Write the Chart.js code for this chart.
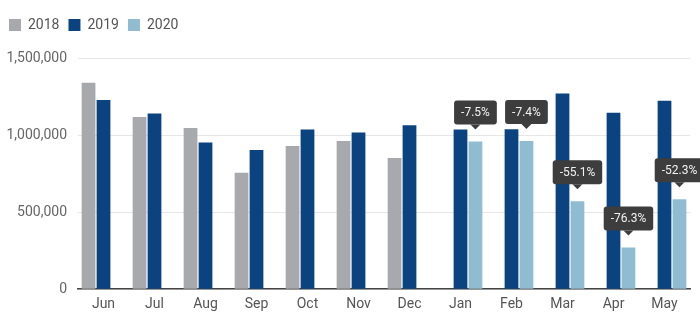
<!DOCTYPE html>
<html>
<head>
<meta charset="utf-8">
<script src="https://cdn.jsdelivr.net/npm/chart.js@4.4.1/dist/chart.umd.min.js"></script>
<style>
  html, body { margin: 0; padding: 0; background: #fff; }
  #wrap { width: 700px; height: 331px; }
</style>
</head>
<body>
<div id="wrap"><canvas id="salesChart"></canvas></div>
<script>
// Monthly sales, Jun–May, three years side by side
const months = ['Jun', 'Jul', 'Aug', 'Sep', 'Oct', 'Nov', 'Dec', 'Jan', 'Feb', 'Mar', 'Apr', 'May'];
const sales2018 = [1339000, 1118000, 1046000, 756000, 929000, 962000, 851000, null, null, null, null, null];
const sales2019 = [1227000, 1140000, 951000, 903000, 1036000, 1016000, 1064000, 1036000, 1038000, 1270000, 1144000, 1222000];
const sales2020 = [null, null, null, null, null, null, null, 958300, 961200, 570200, 271100, 582900];
const yTicks = [0, 500000, 1000000, 1500000];

const FONT = 'Roboto';

// year-over-year change callouts above the 2020 bars
const changeCallouts = {
  id: 'changeCallouts',
  afterDatasetsDraw(chart) {
    const ctx = chart.ctx;
    const meta = chart.getDatasetMeta(2);
    ctx.save();
    ctx.font = '12px ' + FONT;
    ctx.textAlign = 'center';
    ctx.textBaseline = 'middle';
    meta.data.forEach((bar, i) => {
      const cur = sales2020[i];
      const prev = sales2019[i];
      if (cur == null || !prev) return;
      const text = ((cur / prev - 1) * 100).toFixed(1) + '%';
      const w = ctx.measureText(text).width + 14;
      const h = 24;
      const tipY = bar.y - 12;
      const top = tipY - 5 - h;
      const left = bar.x - w / 2;
      ctx.fillStyle = '#3d3d3d';
      ctx.beginPath();
      ctx.roundRect(left, top, w, h, 3);
      ctx.fill();
      ctx.beginPath();
      ctx.moveTo(bar.x - 5, top + h);
      ctx.lineTo(bar.x + 5, top + h);
      ctx.lineTo(bar.x, tipY);
      ctx.closePath();
      ctx.fill();
      ctx.fillStyle = '#f2f2f2';
      ctx.fillText(text, bar.x, top + h / 2 + 1);
    });
    ctx.restore();
  }
};

// extra room under the legend
const legendGap = {
  id: 'legendGap',
  beforeInit(chart) {
    const fit = chart.legend.fit;
    chart.legend.fit = function () {
      fit.call(this);
      this.height += 16;
    };
  }
};

new Chart(document.getElementById('salesChart'), {
  type: 'bar',
  data: {
    labels: months,
    datasets: [
      { label: '2018', data: sales2018, backgroundColor: '#a8a9ad' },
      { label: '2019', data: sales2019, backgroundColor: '#0b4380' },
      { label: '2020', data: sales2020, backgroundColor: '#8fbcd0' }
    ]
  },
  options: {
    responsive: true,
    maintainAspectRatio: false,
    animation: false,
    datasets: {
      bar: { categoryPercentage: 0.88, barPercentage: 0.92 }
    },
    layout: { padding: { top: 9, right: 10, bottom: 11, left: 0 } },
    plugins: {
      legend: {
        align: 'start',
        labels: {
          boxWidth: 12,
          boxHeight: 12,
          padding: 9,
          color: '#555',
          font: { family: FONT, size: 14 }
        }
      },
      tooltip: { enabled: false }
    },
    scales: {
      x: {
        grid: { display: false, drawTicks: false },
        border: { display: true, color: '#444', width: 1.5 },
        ticks: { color: '#555', padding: 7, font: { family: FONT, size: 14 } }
      },
      y: {
        min: 0,
        max: 1500000,
        afterFit(axis) { axis.width = 78; },
        afterBuildTicks(axis) { axis.ticks = yTicks.map(v => ({ value: v })); },
        grid: { color: '#e6e6e6', drawTicks: false },
        border: { display: false },
        ticks: {
          color: '#666',
          padding: 11,
          font: { family: FONT, size: 14 },
          callback: v => v.toLocaleString('en-US')
        }
      }
    }
  },
  plugins: [changeCallouts, legendGap]
});
</script>
</body>
</html>
